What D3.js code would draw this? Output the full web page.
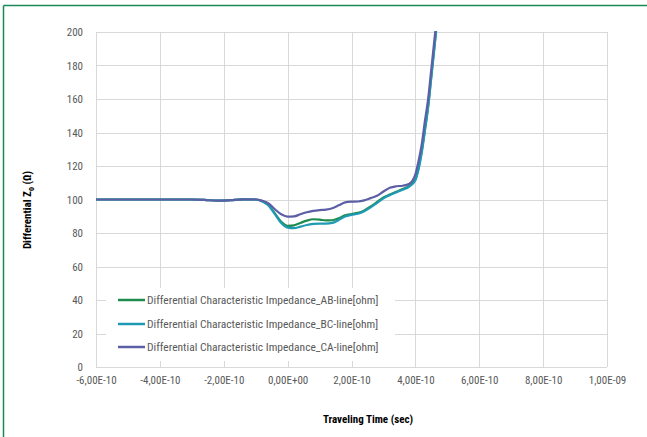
<!DOCTYPE html>
<html><head><meta charset="utf-8">
<script src="https://cdn.jsdelivr.net/npm/d3@7"></script>
<style>
html,body{margin:0;padding:0;background:#fff;}
svg{display:block;}
text{font-family:"Liberation Sans Narrow","Arial Narrow","Roboto Condensed","Liberation Sans",sans-serif;}
</style></head>
<body><svg id="c" width="647" height="437"></svg>
<script>
// time in units of 1e-10 s
const times = [-6,-4,-3,-2.6,-2.2,-1.8,-1.4,-1.0,-0.8,-0.6,-0.4,-0.2,0,0.2,0.4,0.6,0.8,1.0,1.2,1.4,1.6,1.8,2.0,2.2,2.4,2.6,2.8,3.0,3.2,3.4,3.6,3.8,4.0,4.1,4.2,4.3,4.4,4.5,4.6,4.7];
const abLine = [100,100,100,99.8,99.3,99.6,100.1,100,99.0,96.7,91.7,86.7,84.3,84.6,86.0,87.4,88.2,88.0,87.5,87.6,88.8,90.5,91.3,92.0,93.5,95.8,98.5,101.2,103.0,104.6,106.2,108.0,112,119,129,142,156,174,192,211];
const bcLine = [100,100,100,99.8,99.3,99.6,100.1,100,99.0,96.5,91.3,86.0,83.2,82.9,83.8,84.8,85.4,85.6,85.6,86.0,87.8,89.8,90.8,91.5,93.0,95.3,98.0,100.7,102.6,104.2,105.8,107.6,111.5,118,128,141,155,173,191,210];
const caLine = [100,100,100,99.8,99.3,99.6,100.1,100,99.3,97.7,94.2,91.2,89.8,89.9,91.2,92.4,93.2,93.7,94.0,94.8,96.5,98.3,98.7,98.8,99.5,100.8,102.2,104.8,107.0,107.9,108.2,109.2,115,123,133,147,160,178,196,214];
const seriesNames = ["Differential Characteristic Impedance_AB-line[ohm]","Differential Characteristic Impedance_BC-line[ohm]","Differential Characteristic Impedance_CA-line[ohm]"];
const seriesColors = ["#1f8c4f","#1f9ab4","#5d5fa6"];
const xTicks = [-6e-10,-4e-10,-2e-10,0,2e-10,4e-10,6e-10,8e-10,1e-9];
const xTickLabels = ["-6,00E-10","-4,00E-10","-2,00E-10","0,00E+00","2,00E-10","4,00E-10","6,00E-10","8,00E-10","1,00E-09"];
const yTicks = [0,20,40,60,80,100,120,140,160,180,200];

const svg = d3.select("#c");
const L=96, R=607, T=32, B=367;
const x = d3.scaleLinear().domain([-6e-10,1e-9]).range([L,R]);
const y = d3.scaleLinear().domain([0,200]).range([B,T]);

// frame (top & left)
svg.append("line").attr("x1",3.5).attr("x2",647).attr("y1",5.5).attr("y2",5.5).attr("stroke","#1a8a5a").attr("stroke-width",1.5);
svg.append("line").attr("x1",3.5).attr("x2",3.5).attr("y1",5.5).attr("y2",437).attr("stroke","#1a8a5a").attr("stroke-width",1.5);

// grid
const g = svg.append("g");
g.selectAll(".hg").data(yTicks).join("line")
  .attr("x1",L).attr("x2",R).attr("y1",d=>Math.round(y(d))+0.5).attr("y2",d=>Math.round(y(d))+0.5)
  .attr("stroke","#d9d9d9").attr("stroke-width",1);
g.selectAll(".vg").data(xTicks).join("line")
  .attr("y1",T).attr("y2",B).attr("x1",d=>Math.round(x(d))+0.5).attr("x2",d=>Math.round(x(d))+0.5)
  .attr("stroke","#d9d9d9").attr("stroke-width",1);

// axes labels via d3 axes
const xa = svg.append("g").attr("transform",`translate(0,${B})`)
  .call(d3.axisBottom(x).tickValues(xTicks).tickFormat((d,i)=>xTickLabels[i]).tickSize(0).tickPadding(9));
xa.select(".domain").remove();
xa.selectAll("text").attr("fill","#595959").style("font-size","11px");
const ya = svg.append("g").attr("transform",`translate(${L},0)`)
  .call(d3.axisLeft(y).tickValues(yTicks).tickSize(0).tickPadding(13));
ya.select(".domain").remove();
ya.selectAll("text").attr("fill","#595959").style("font-size","11px");

// clip
svg.append("clipPath").attr("id","clp").append("rect").attr("x",L).attr("y",T-1).attr("width",R-L).attr("height",B-T+1);

const line = d3.line().x(d=>x(d[0]*1e-10)).y(d=>y(d[1])).curve(d3.curveMonotoneX);
const all = [abLine,bcLine,caLine];
const lg = svg.append("g").attr("clip-path","url(#clp)");
all.forEach((s,i)=>{
  lg.append("path").datum(times.map((t,j)=>[t,s[j]]))
    .attr("d",line).attr("fill","none").attr("stroke",seriesColors[i]).attr("stroke-width",2.2)
    .attr("stroke-linejoin","round");
});

// legend
svg.append("rect").attr("x",106).attr("y",288).attr("width",289).attr("height",73).attr("fill","#fff");
const legY=[300,324,347];
seriesNames.forEach((n,i)=>{
  svg.append("line").attr("x1",118).attr("x2",145).attr("y1",legY[i]).attr("y2",legY[i])
    .attr("stroke",seriesColors[i]).attr("stroke-width",2.5);
  svg.append("text").attr("x",147).attr("y",legY[i]+4).attr("fill","#595959").style("font-size","11.5px").text(n);
});

// axis titles
svg.append("text").attr("x",368).attr("y",423).attr("text-anchor","middle")
  .style("font-size","11px").style("font-weight","bold").attr("fill","#000").text("Traveling Time (sec)");
const yt = svg.append("text").attr("transform","translate(31,210) rotate(-90)").attr("text-anchor","middle")
  .style("font-size","11px").style("font-weight","bold").attr("fill","#000");
yt.append("tspan").text("Differential Z");
yt.append("tspan").attr("dy",3).style("font-size","8px").text("0");
yt.append("tspan").attr("dy",-3).text(" (Ω)");
</script></body></html>
